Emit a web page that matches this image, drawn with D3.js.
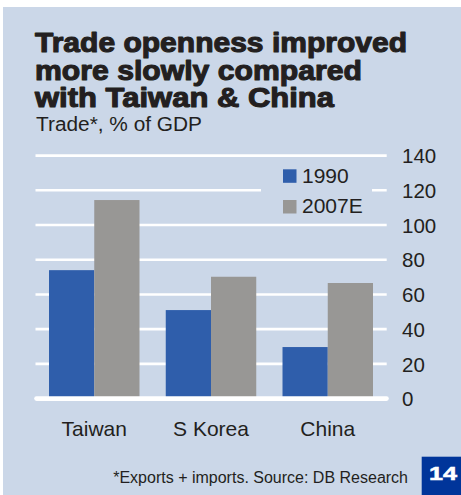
<!DOCTYPE html>
<html>
<head>
<meta charset="utf-8">
<script src="https://cdn.jsdelivr.net/npm/d3@7"></script>
<style>
  html, body { margin: 0; padding: 0; background: #ffffff; }
  svg { display: block; font-family: "Liberation Sans", Arial, Helvetica, sans-serif; }
</style>
</head>
<body>
<svg id="chart" width="461" height="495"></svg>
<script>
// Trade (exports + imports) as % of GDP
const categories = ["Taiwan", "S Korea", "China"];
const seriesNames = ["1990", "2007E"];
const values1990 = [74, 51, 29.7];
const values2007E = [114.4, 70.2, 66.6];
const yTicks = [0, 20, 40, 60, 80, 100, 120, 140];

const titleLines = ["Trade openness improved", "more slowly compared", "with Taiwan & China"];
const subtitle = "Trade*, % of GDP";
const footnote = "*Exports + imports. Source: DB Research";
const pageNumber = "14";

const colors = { panel: "#cbd7e8", blue: "#2f5eab", grey: "#989795", text: "#231f20", box: "#00359a" };

const svg = d3.select("#chart");

// background panel
svg.append("rect").attr("x", 3).attr("y", 7).attr("width", 458).attr("height", 488)
  .attr("fill", colors.panel);

// title block
const titleBase = [52.3, 80, 107.3];
const titleWidths = [372, 327, 299];
titleLines.forEach((t, i) => {
  svg.append("text").attr("x", 35).attr("y", titleBase[i])
    .attr("font-size", 27).attr("font-weight", "bold")
    .attr("fill", colors.text).attr("stroke", colors.text).attr("stroke-width", 1.1)
    .attr("stroke-linejoin", "round")
    .attr("textLength", titleWidths[i]).attr("lengthAdjust", "spacingAndGlyphs")
    .text(t);
});
svg.append("text").attr("x", 36).attr("y", 130.7)
  .attr("font-size", 19.5).attr("fill", colors.text)
  .attr("textLength", 166).attr("lengthAdjust", "spacingAndGlyphs")
  .text(subtitle);

// scales
const x0 = d3.scaleBand().domain(categories).range([35, 387]).paddingInner(0.225).paddingOuter(0.12);
const x1 = d3.scaleBand().domain(seriesNames).range([0, x0.bandwidth()]);
const y = d3.scaleLinear().domain([0, 140]).range([398.6, 155.6]);

// gridlines
svg.append("g").selectAll("line").data(yTicks.filter(d => d > 0)).join("line")
  .attr("x1", 35.5).attr("x2", 386.7)
  .attr("y1", d => y(d)).attr("y2", d => y(d))
  .attr("stroke", "#ffffff").attr("stroke-width", 2.6);

// right axis labels
const axis = svg.append("g").attr("transform", "translate(387,0)")
  .call(d3.axisRight(y).tickValues(yTicks).tickSize(0).tickPadding(15).tickFormat(d3.format("d")));
axis.select(".domain").remove();
axis.selectAll("text").attr("font-size", 20.5).attr("fill", colors.text)
  .attr("font-family", "Liberation Sans, Arial, sans-serif").attr("dy", "0.35em");

// legend (panel-coloured backing breaks the gridline behind it)
svg.append("rect").attr("x", 261).attr("y", 162).attr("width", 111).attr("height", 58)
  .attr("fill", colors.panel);
const legendColors = [colors.blue, colors.grey];
const legendY = [169.3, 200];
seriesNames.forEach((s, i) => {
  svg.append("rect").attr("x", 283).attr("y", legendY[i]).attr("width", 13.5).attr("height", 13.5)
    .attr("fill", legendColors[i]);
  svg.append("text").attr("x", 302).attr("y", legendY[i] + 13.2)
    .attr("font-size", 21).attr("fill", colors.text).text(s);
});

// bars
const rows = categories.map((c, i) => ({ cat: c, vals: [values1990[i], values2007E[i]] }));
const groups = svg.append("g").selectAll("g").data(rows).join("g")
  .attr("transform", d => `translate(${x0(d.cat)},0)`);
groups.selectAll("rect").data(d => d.vals.map((v, i) => ({ key: seriesNames[i], v, i }))).join("rect")
  .attr("x", d => x1(d.key)).attr("width", x1.bandwidth())
  .attr("y", d => y(d.v)).attr("height", d => y(0) - y(d.v))
  .attr("fill", d => legendColors[d.i]);

// baseline
svg.append("line").attr("x1", 36.5).attr("x2", 386.5).attr("y1", y(0)).attr("y2", y(0))
  .attr("stroke", "#ffffff").attr("stroke-width", 4.6).attr("stroke-linecap", "round");

// category labels
svg.append("g").selectAll("text").data(categories).join("text")
  .attr("x", d => x0(d) + x0.bandwidth() / 2).attr("y", 435.5)
  .attr("text-anchor", "middle").attr("font-size", 21).attr("fill", colors.text)
  .text(d => d);

// footnote and page marker
svg.append("text").attr("x", 408).attr("y", 482.7).attr("text-anchor", "end")
  .attr("font-size", 16).attr("fill", colors.text).text(footnote);
svg.append("rect").attr("x", 421.7).attr("y", 456.7).attr("width", 39.3).attr("height", 38.3)
  .attr("fill", colors.box);
svg.append("text").attr("x", 443).attr("y", 480.2).attr("text-anchor", "middle")
  .attr("font-size", 18).attr("font-weight", "bold").attr("fill", "#ffffff")
  .attr("stroke", "#ffffff").attr("stroke-width", 0.5)
  .attr("textLength", 28).attr("lengthAdjust", "spacingAndGlyphs").text(pageNumber);
</script>
</body>
</html>
